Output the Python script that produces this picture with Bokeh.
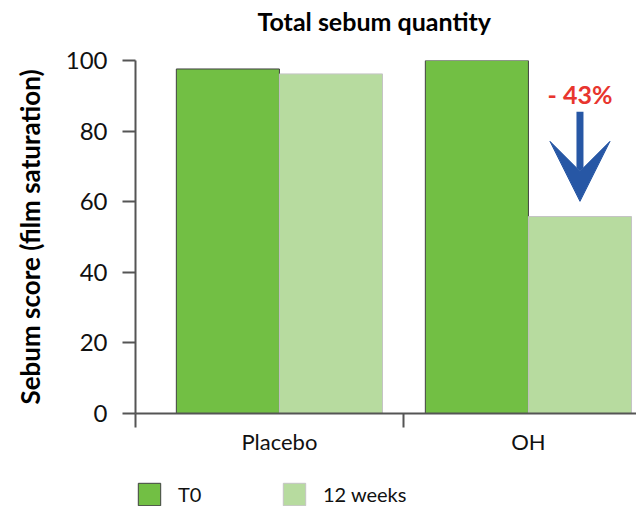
from bokeh.plotting import figure
from bokeh.layouts import column
from bokeh.models import (Range1d, FixedTicker, Arrow, VeeHead, Label, Legend,
                          LegendItem, Title)
from bokeh.embed import file_html
from bokeh.resources import INLINE

# ---- data ----
groups = ["Placebo", "OH"]
t0_values = [97.6, 100.0]
wk12_values = [96.2, 55.8]
y_ticks = [0, 20, 40, 60, 80, 100]
series_names = ["T0", "12 weeks"]
change_text = "- 43%"
title_text = "Total sebum quantity"
y_title = "Sebum score (film saturation)"

# ---- styles ----
C_T0 = "#72BF44"
C_12 = "#B7DB9F"
L_T0 = "#404040"
L_12 = "#c4c4c4"
AX = "#555555"
FONT = "Lato"

pos = [i + 1 for i in range(len(groups))]
bw = 0.414
x_start, x_end = 0.422, 2.434

p = figure(width=636, height=470, output_backend="svg", toolbar_location=None,
           title=None,
           x_range=Range1d(x_start, x_end), y_range=Range1d(0, 100),
           min_border_left=135, min_border_right=0, min_border_top=60,
           min_border_bottom=57)
p.outline_line_color = None
p.grid.visible = False

p.vbar(x=[x - bw / 2 for x in pos], top=t0_values, width=bw, fill_color=C_T0,
       line_color=L_T0, line_width=1)
p.vbar(x=[x + bw / 2 for x in pos], top=wk12_values, width=bw, fill_color=C_12,
       line_color=L_12, line_width=1)

# title: a thin spacer next to the frame, then the real title above it
p.add_layout(Title(text=" ", text_font_size="1px", standoff=22), "above")
p.add_layout(Title(text=title_text, align="left", offset=122, standoff=0,
                   text_font=FONT, text_font_size="25px", text_font_style="bold",
                   text_color="#000000"), "above")

# y axis
ya = p.yaxis[0]
ya.ticker = FixedTicker(ticks=y_ticks)
ya.axis_line_color = AX
ya.axis_line_width = 2
ya.major_tick_line_color = AX
ya.major_tick_line_width = 2
ya.major_tick_out = 13
ya.major_tick_in = 0
ya.minor_tick_out = 0
ya.minor_tick_in = 0
ya.major_label_text_font = FONT
ya.major_label_text_font_size = "24px"
ya.major_label_text_color = "#111111"
ya.major_label_standoff = 15
ya.axis_label = y_title
ya.axis_label_text_font = FONT
ya.axis_label_text_font_size = "26px"
ya.axis_label_text_font_style = "bold"
ya.axis_label_text_color = "#000000"
ya.axis_label_standoff = 17

# x axis
xa = p.xaxis[0]
bounds = [x_start] + [x + 0.5 for x in pos]
xa.ticker = FixedTicker(ticks=pos, minor_ticks=bounds)
xa.major_label_overrides = {x: g for x, g in zip(pos, groups)}
xa.axis_line_color = AX
xa.axis_line_width = 2
xa.major_tick_out = 0
xa.major_tick_in = 0
xa.minor_tick_out = 14
xa.minor_tick_in = 0
xa.minor_tick_line_color = AX
xa.minor_tick_line_width = 2
xa.major_label_text_font = FONT
xa.major_label_text_font_size = "22px"
xa.major_label_text_color = "#111111"
xa.major_label_standoff = 0

# annotation
ax_x = pos[1] + bw / 2
p.add_layout(Label(x=ax_x, y=90.5, text=change_text, text_align="center",
                   text_baseline="alphabetic", text_font=FONT,
                   text_font_size="25px", text_font_style="bold",
                   text_color="#E8352E"))
p.add_layout(Arrow(x_start=ax_x, y_start=85.5, x_end=ax_x, y_end=wk12_values[1] + 4.3,
                   line_color="#2757A5", line_width=7,
                   end=VeeHead(size=60, fill_color="#2757A5", line_color="#2757A5",
                               line_width=1)))

# legend strip below the chart
q = figure(width=636, height=36, output_backend="svg", toolbar_location=None,
           x_range=Range1d(0, 1), y_range=Range1d(0, 1),
           x_axis_location=None, y_axis_location=None,
           min_border_left=135, min_border_right=0, min_border_top=0,
           min_border_bottom=0)
q.grid.visible = False
q.outline_line_color = None
e0 = q.vbar(x=[5], top=[1], width=0.1, fill_color=C_T0, line_color=L_T0, line_width=1)
e1 = q.vbar(x=[5], top=[1], width=0.1, fill_color=C_12, line_color=L_12, line_width=1)
lg = Legend(items=[LegendItem(label=series_names[0], renderers=[e0]),
                   LegendItem(label=series_names[1], renderers=[e1])],
            location=(0, -2), orientation="horizontal")
lg.padding = 0
lg.spacing = 0
lg.margin = 0
lg.glyph_width = 28
lg.glyph_height = 28
lg.label_standoff = 15
lg.label_width = 102
lg.label_text_font = FONT
lg.label_text_font_size = "20px"
lg.label_text_color = "#111111"
lg.border_line_color = None
lg.background_fill_alpha = 0
q.add_layout(lg)

open("out.html", "w").write(file_html(column(p, q, spacing=0), INLINE))
